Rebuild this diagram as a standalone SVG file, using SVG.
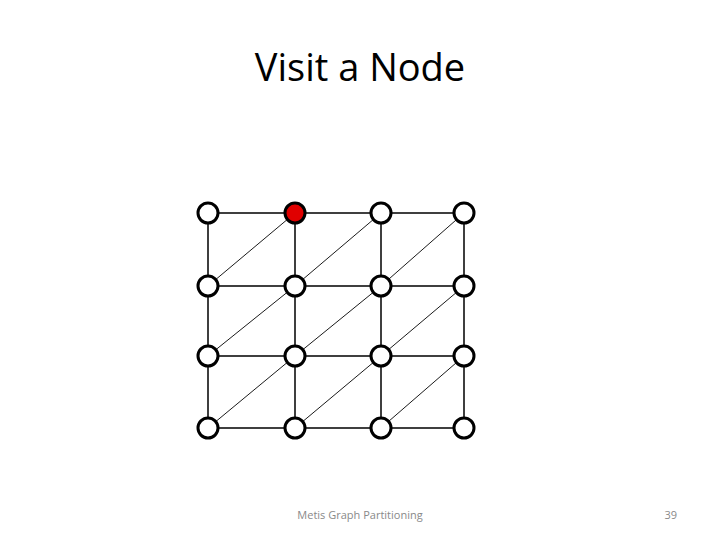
<svg xmlns="http://www.w3.org/2000/svg" width="720" height="540" viewBox="0 0 720 540">
<style>
.e{stroke:#000;stroke-width:1.5;fill:none}
.d{stroke:#000;stroke-width:0.9;fill:none}
.n{fill:#fff;stroke:#000;stroke-width:3}
.r{fill:#e00000}
.t{font-family:"Open Sans","Liberation Sans",sans-serif;fill:#000}
.f{font-family:"Open Sans","Liberation Sans",sans-serif;fill:#898989;font-size:11px}
</style>
<rect width="720" height="540" fill="#fff"/>
<text class="t" x="360" y="81" font-size="38" text-anchor="middle">Visit a Node</text>
<g id="connectors">
<path class="e" d="M208,213H464M208,286H464M208,356H464M208,428H464M208,213V428M295,213V428M381,213V428M464,213V428"/>
<path class="d" d="M208,286L295,213M295,286L381,213M381,286L464,213M208,356L295,286M295,356L381,286M381,356L464,286M208,428L295,356M295,428L381,356M381,428L464,356"/>
</g>
<g id="n00"><circle class="n" cx="208" cy="213" r="10"/></g>
<g id="n01"><circle class="n r" cx="295" cy="213" r="10"/></g>
<g id="n02"><circle class="n" cx="381" cy="213" r="10"/></g>
<g id="n03"><circle class="n" cx="464" cy="213" r="10"/></g>
<g id="n10"><circle class="n" cx="208" cy="286" r="10"/></g>
<g id="n11"><circle class="n" cx="295" cy="286" r="10"/></g>
<g id="n12"><circle class="n" cx="381" cy="286" r="10"/></g>
<g id="n13"><circle class="n" cx="464" cy="286" r="10"/></g>
<g id="n20"><circle class="n" cx="208" cy="356" r="10"/></g>
<g id="n21"><circle class="n" cx="295" cy="356" r="10"/></g>
<g id="n22"><circle class="n" cx="381" cy="356" r="10"/></g>
<g id="n23"><circle class="n" cx="464" cy="356" r="10"/></g>
<g id="n30"><circle class="n" cx="208" cy="428" r="10"/></g>
<g id="n31"><circle class="n" cx="295" cy="428" r="10"/></g>
<g id="n32"><circle class="n" cx="381" cy="428" r="10"/></g>
<g id="n33"><circle class="n" cx="464" cy="428" r="10"/></g>
<text class="f" x="360" y="519" text-anchor="middle">Metis Graph Partitioning</text>
<text class="f" x="677" y="519" text-anchor="end">39</text>
</svg>
